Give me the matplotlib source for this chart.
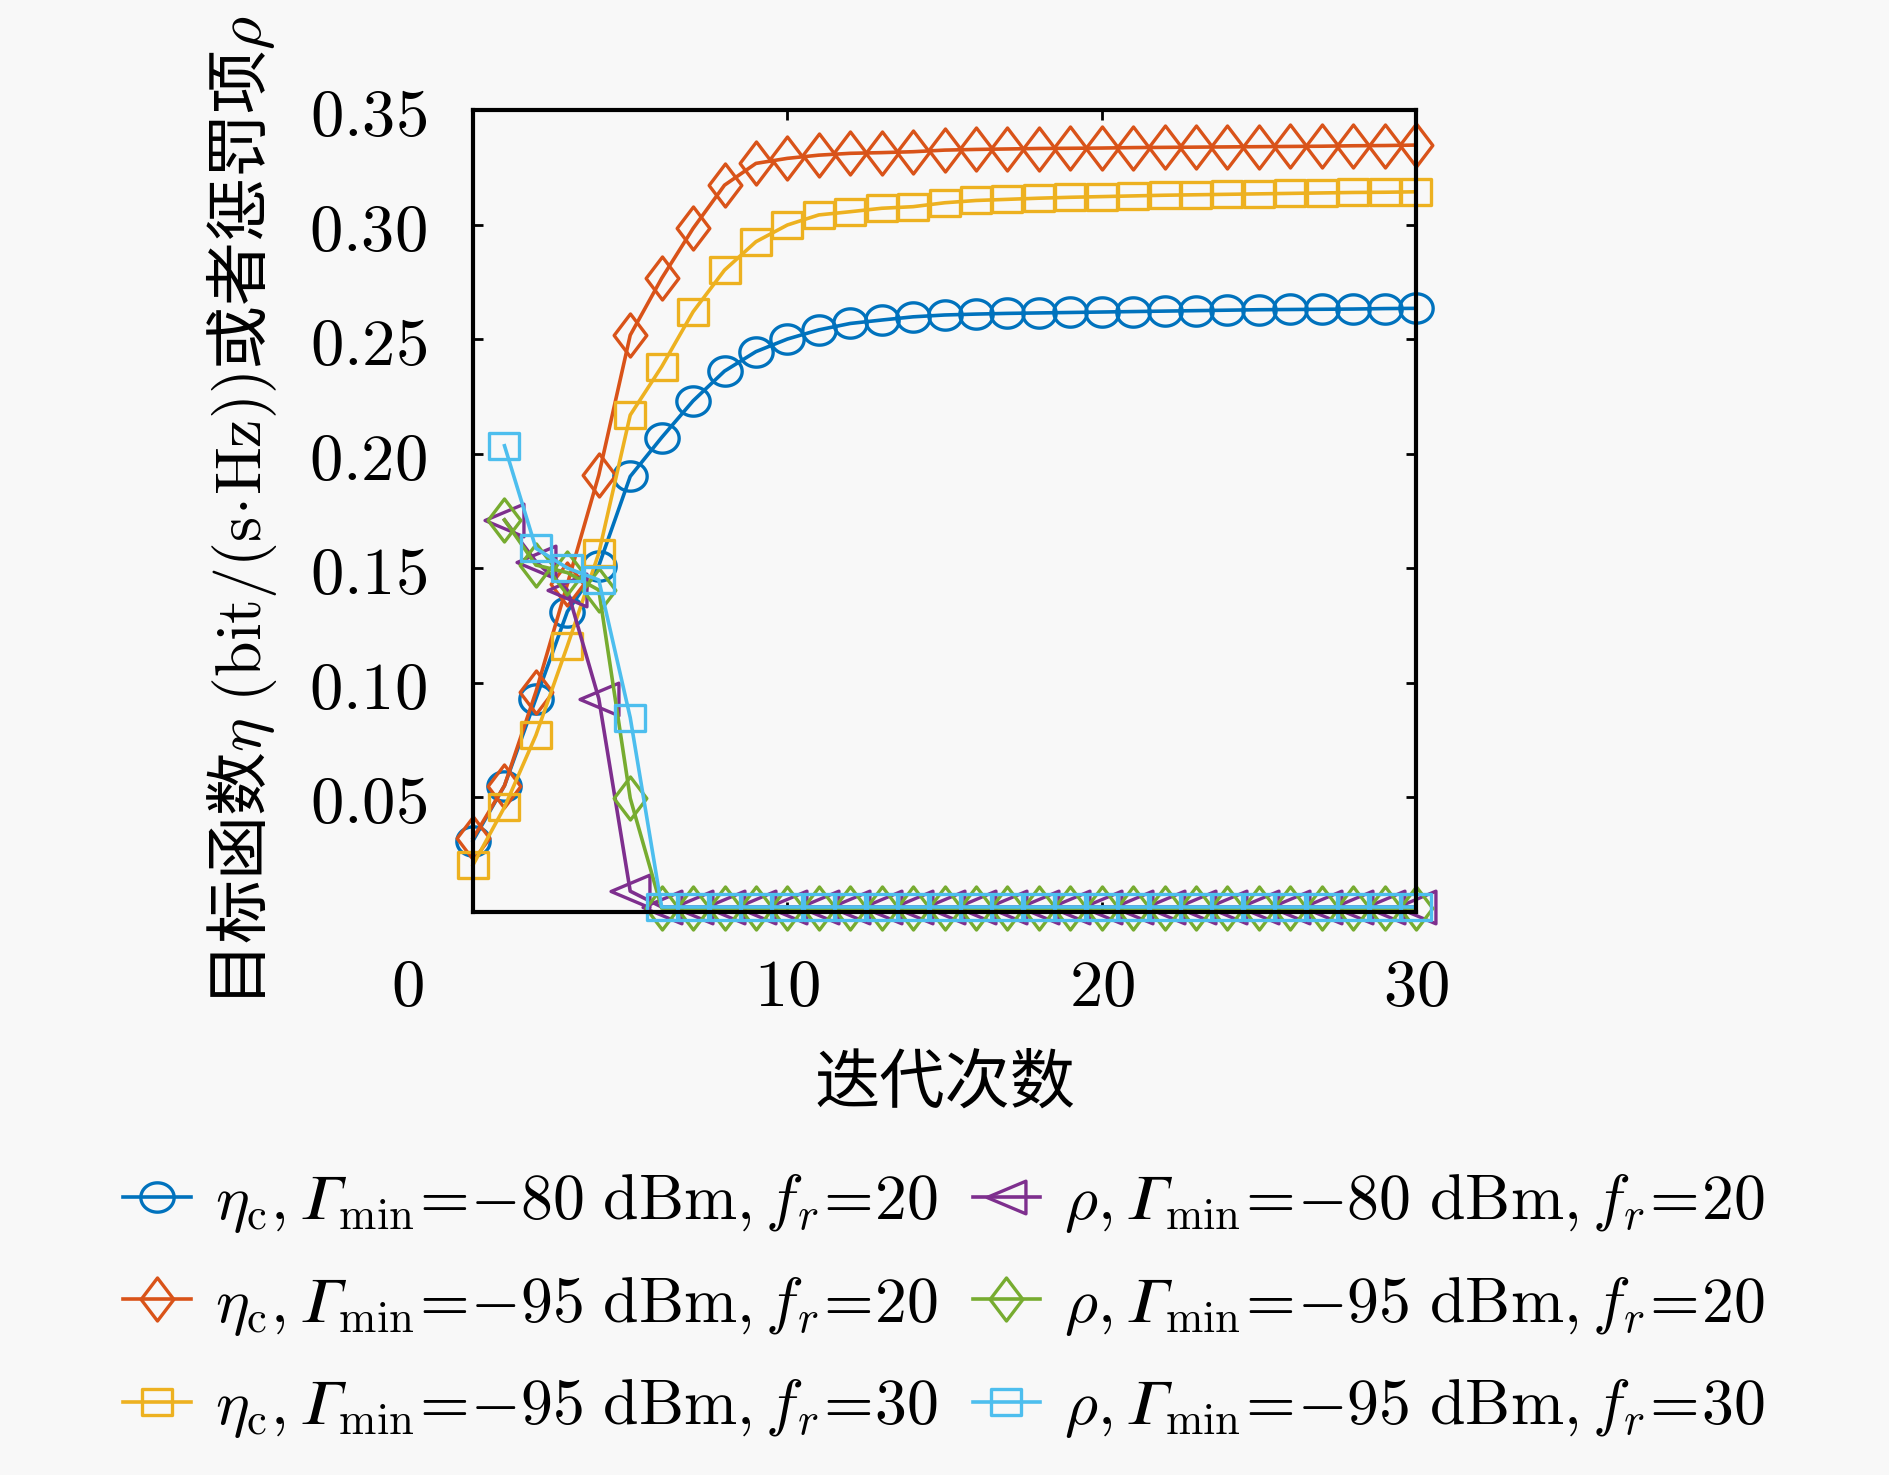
import numpy as np
import matplotlib
matplotlib.use("Agg")
import matplotlib.pyplot as plt
from matplotlib.path import Path
import matplotlib.transforms as mtransforms

plt.rcParams['font.family'] = ['Noto Sans CJK SC', 'DejaVu Sans']
plt.rcParams['mathtext.fontset'] = 'cm'

# ---------------- data ----------------
x_eta = list(range(0, 31))
x_rho = list(range(1, 31))

eta_80_20 = [0.031, 0.055, 0.093, 0.131, 0.151, 0.190, 0.207, 0.223, 0.236, 0.2445,
             0.250, 0.254, 0.2568, 0.2583, 0.2597, 0.2605, 0.2609, 0.2612, 0.2614, 0.2616,
             0.2618, 0.2620, 0.2622, 0.2624, 0.2626, 0.2628, 0.2629, 0.2630, 0.2631, 0.2633,
             0.2634]
eta_95_20 = [0.032, 0.055, 0.096, 0.143, 0.1906, 0.2517, 0.2765, 0.2983, 0.3172, 0.3267,
             0.3289, 0.3303, 0.3311, 0.3314, 0.3318, 0.3325, 0.3328, 0.3330, 0.3332, 0.3333,
             0.3334, 0.3336, 0.3337, 0.3338, 0.3339, 0.3340, 0.3341, 0.3342, 0.3344, 0.3345,
             0.3347]
eta_95_30 = [0.0204, 0.0456, 0.077, 0.116, 0.1565, 0.2168, 0.2379, 0.2619, 0.2801, 0.2925,
             0.2998, 0.3042, 0.3056, 0.3071, 0.3078, 0.3095, 0.3105, 0.3110, 0.3115, 0.3119,
             0.3122, 0.3125, 0.3128, 0.3130, 0.3132, 0.3134, 0.3136, 0.3138, 0.3140, 0.3141,
             0.3143]
rho_80_20 = [0.171, 0.1528, 0.1404, 0.093, 0.0089] + [0.002] * 25
rho_95_20 = [0.171, 0.1513, 0.148, 0.1404, 0.0495] + [0.0015] * 25
rho_95_30 = [0.2034, 0.1586, 0.150, 0.1448, 0.0847] + [0.002] * 25

G = '\U0001D6E4'  # mathematical italic capital gamma
labels = [
    r'$\eta_{\rm c},' + G + r'_{\rm min}\!=\!{-}80\ {\rm dBm},f_r\!=\!20$',
    r'$\eta_{\rm c},' + G + r'_{\rm min}\!=\!{-}95\ {\rm dBm},f_r\!=\!20$',
    r'$\eta_{\rm c},' + G + r'_{\rm min}\!=\!{-}95\ {\rm dBm},f_r\!=\!30$',
    r'$\rho,' + G + r'_{\rm min}\!=\!{-}80\ {\rm dBm},f_r\!=\!20$',
    r'$\rho,' + G + r'_{\rm min}\!=\!{-}95\ {\rm dBm},f_r\!=\!20$',
    r'$\rho,' + G + r'_{\rm min}\!=\!{-}95\ {\rm dBm},f_r\!=\!30$',
]
colors = ['#0072BD', '#D95319', '#EDB120', '#7E2F8E', '#77AC30', '#4DBEEE']

yticks = [0.05, 0.10, 0.15, 0.20, 0.25, 0.30, 0.35]
ytick_labels = ['0.05', '0.10', '0.15', '0.20', '0.25', '0.30', '0.35']
xticks = [0, 10, 20, 30]
xtick_labels = ['0', '10', '20', '30']

# ---------------- custom markers ----------------
t = np.linspace(0, 2 * np.pi, 60)
ellipse = Path(np.column_stack([1.0 * np.cos(t), 0.88 * np.sin(t)]), closed=True)
rect = Path([(-1, -0.83), (1, -0.83), (1, 0.83), (-1, 0.83), (-1, -0.83)], closed=True)
diamond = Path([(0, -1), (0.76, 0), (0, 1), (-0.76, 0), (0, -1)], closed=True)
tri_left = Path([(-1, 0), (1, 0.84), (1, -0.84), (-1, 0)], closed=True)

markers = [ellipse, diamond, rect, tri_left, diamond, rect]
msizes = [24, 31, 22, 28, 31, 22]

bg = '#f8f8f8'
fig = plt.figure(figsize=(18.9, 14.75), dpi=100, facecolor=bg)
ax = fig.add_axes([0.2503, 0.382, 0.4989, 0.5434], facecolor=bg)

series = [(x_eta, eta_80_20), (x_eta, eta_95_20), (x_eta, eta_95_30),
          (x_rho, rho_80_20), (x_rho, rho_95_20), (x_rho, rho_95_30)]
for (xs, ys), c, m, ms, lab in zip(series, colors, markers, msizes, labels):
    ax.plot(xs, ys, color=c, lw=2.6, marker=m, ms=ms, mfc='none', mec=c, mew=2.4,
            label=lab, clip_on=False)

ax.set_xlim(0, 30)
ax.set_ylim(0, 0.35)
ax.set_yticks(yticks)
ax.set_yticklabels(['$' + s + '$' for s in ytick_labels])
ax.set_xticks(xticks)
ax.set_xticklabels(['$' + s + '$' for s in xtick_labels])
ax.tick_params(direction='in', length=7, width=2, labelsize=48,
               top=True, right=True, pad=30)
ax.tick_params(axis='y', pad=33)
for sp in ax.spines.values():
    sp.set_linewidth(3.0)

# shift "0" x tick label to the left as in the reference
offset = mtransforms.ScaledTranslation(-66 / 100, 0, fig.dpi_scale_trans)
lab0 = ax.get_xticklabels()[0]
lab0.set_transform(lab0.get_transform() + offset)

ax.set_xlabel('迭代次数', fontsize=47, labelpad=22)
ax.set_ylabel(r'目标函数$\eta\ (\mathrm{bit}/(\mathrm{s}\!\cdot\!\mathrm{Hz}))$或者惩罚项$\rho$',
              fontsize=46, labelpad=22)

handles, labs = ax.get_legend_handles_labels()
fig.legend(handles, labs, loc='center', bbox_to_anchor=(0.4995, 0.116), ncol=2,
           frameon=False, fontsize=46, handlelength=1.05, handletextpad=0.38,
           columnspacing=0.55, labelspacing=0.55, numpoints=1)

fig.savefig('out.png', dpi=100, facecolor=bg)
